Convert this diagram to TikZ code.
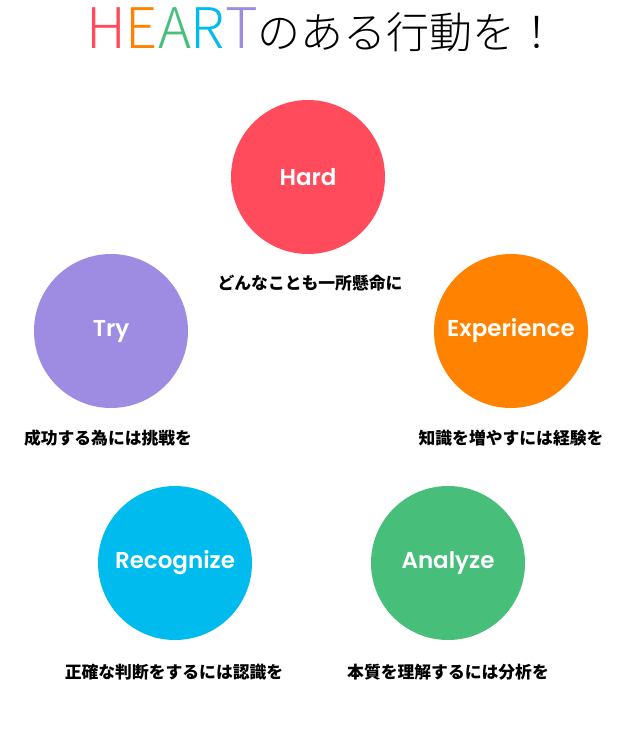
\documentclass[tikz,border=0pt]{standalone}
\usepackage{fontspec}
\usepackage{xcolor}
\usepackage{tikz}
\setmainfont{Noto Sans CJK JP}
\newfontfamily\titlefont{Noto Sans CJK JP}[UprightFont=* Light]
\newfontfamily\roundfont{Poppins}[UprightFont=* SemiBold]

\definecolor{hardred}{HTML}{FF4B5C}
\definecolor{tryviolet}{HTML}{9E8CE2}
\definecolor{exporange}{HTML}{FF8200}
\definecolor{recblue}{HTML}{00BBEE}
\definecolor{anagreen}{HTML}{48BE7B}

\tikzset{
  ball/.style={circle, minimum size=154pt, inner sep=0pt, text=white,
    font=\roundfont\fontsize{23}{23}\selectfont},
  caption/.style={inner sep=0pt, font=\bfseries\fontsize{16.8}{17}\selectfont}
}

\begin{document}
\begin{tikzpicture}[x=1pt, y=-1pt]
		\useasboundingbox[fill=white] (0,0) rectangle (629,744);
		% title
		\node[anchor=base west, inner sep=0pt] (title) at (86,48)
		  {\titlefont\fontsize{56}{56}\selectfont\textcolor{hardred}{H}\textcolor{exporange}{E}\textcolor{anagreen}{A}\textcolor{recblue}{R}\textcolor{tryviolet}{T}\fontsize{43}{43}\selectfont のある行動を！};
		% circles
		\node[ball, fill=hardred] (hard) at (308,177) {Hard};
		\node[ball, fill=tryviolet] (try) at (111,331) {Try};
		\node[ball, fill=exporange] (exp) at (511,331) {Experience};
		\node[ball, fill=recblue] (rec) at (175,563) {Recognize};
		\node[ball, fill=anagreen] (ana) at (448,563) {Analyze};
		% captions
		\node[caption] (hardtxt) at (310,283) {どんなことも一所懸命に};
		\node[caption] (trytxt) at (108,438) {成功する為には挑戦を};
		\node[caption] (exptxt) at (511,438) {知識を増やすには経験を};
		\node[caption] (rectxt) at (174,672) {正確な判断をするには認識を};
		\node[caption] (anatxt) at (448,672) {本質を理解するには分析を};
\end{tikzpicture}
\end{document}
